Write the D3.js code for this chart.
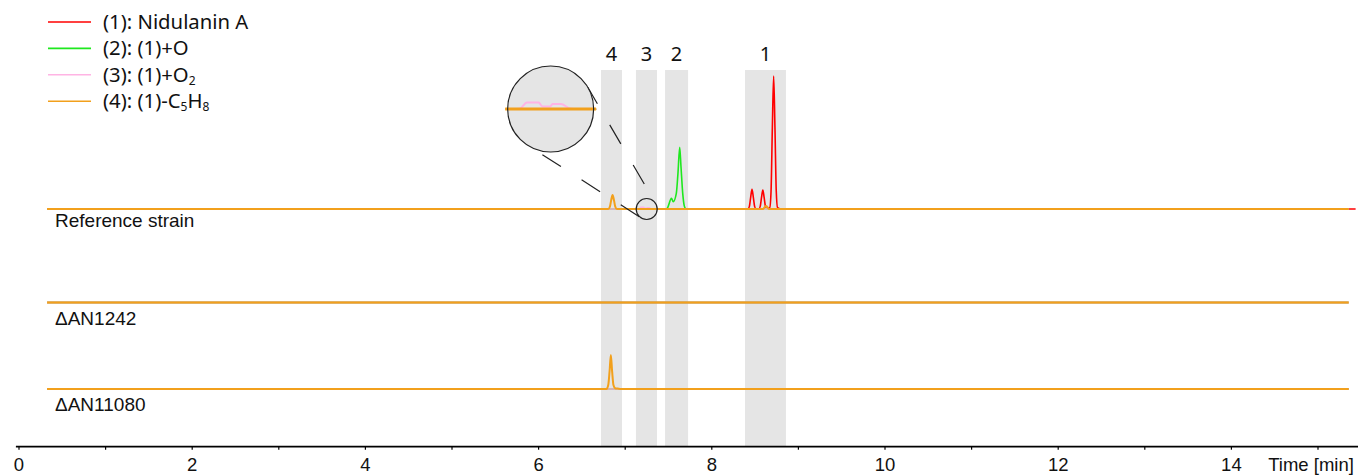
<!DOCTYPE html>
<html>
<head>
<meta charset="utf-8">
<script src="https://cdn.jsdelivr.net/npm/d3@7/dist/d3.min.js"></script>
<style>
  html, body { margin: 0; padding: 0; background: #fff; }
  svg { display: block; }
</style>
</head>
<body>
<svg id="chart" width="1358" height="475"></svg>
<script>
// ---------------- DATA ----------------
const strains = ["Reference strain", "ΔAN1242", "ΔAN11080"];
const compoundIds = ["1", "2", "3", "4"];
const legendParts = [
  [{ t: "(1): Nidulanin A" }],
  [{ t: "(2): (1)+O" }],
  [{ t: "(3): (1)+O" }, { t: "2", sub: true }],
  [{ t: "(4): (1)-C" }, { t: "5", sub: true }, { t: "H" }, { t: "8", sub: true }]
];
const xTicks = [0, 1, 2, 3, 4, 5, 6, 7, 8, 9, 10, 11, 12, 13, 14, 15];
const xTickLabels = ["0", "", "2", "", "4", "", "6", "", "8", "", "10", "", "12", "", "14", ""];
const xAxisTitle = "Time [min]";

// highlighted retention windows (min)
const bandLabels = ["4", "3", "2", "1"];
const bandStart = [6.726, 7.130, 7.466, 8.389];
const bandEnd   = [6.969, 7.373, 7.732, 8.862];

// traces: [time (min), relative intensity]
const refRed = [[0.33,0],[8.40,0],[8.425,0.2],[8.44,2],[8.455,9],[8.47,14.8],[8.485,9],[8.50,2],[8.515,0.2],
  [8.55,0.2],[8.565,2],[8.58,8.7],[8.595,14.3],[8.61,8.7],[8.625,2],[8.64,0.2],
  [8.675,1],[8.69,13.5],[8.705,61],[8.72,100],[8.735,61],[8.75,13.5],[8.765,1],[8.80,0],[15.44,0]];
const refGreen = [[0.33,0],[7.47,0],[7.49,0.5],[7.54,8],[7.56,5.5],[7.596,11.8],[7.615,26.8],[7.635,46.4],
  [7.65,31.8],[7.67,11.8],[7.688,2.3],[7.70,0.5],[7.72,0],[15.36,0]];
const refPink = [[0.33,0],[7.15,0],[7.168,0.1],[7.187,1.2],[7.220,1.2],[7.231,0.47],[7.253,0.47],[7.259,0.92],
  [7.283,0.92],[7.309,0.1],[7.33,0],[15.36,0]];
const refOrange = [[0.33,0],[6.81,0],[6.83,2],[6.845,7],[6.86,10.5],[6.875,7],[6.89,2],[6.91,0],
  [8.60,0],[8.615,1.2],[8.632,2.3],[8.65,1.2],[8.665,0],[15.36,0]];

const flat = [[0.33,0],[15.36,0]];
const an11080Orange = [[0.33,0],[6.79,0],[6.81,3],[6.825,13],[6.84,25.6],[6.855,13],[6.87,3],[6.89,0.6],
  [6.92,0.3],[6.96,0],[15.36,0]];

const traces = [
  { strain: 0, id: "1", values: refRed },
  { strain: 0, id: "2", values: refGreen },
  { strain: 0, id: "3", values: refPink },
  { strain: 0, id: "4", values: refOrange },
  { strain: 1, id: "1", values: flat },
  { strain: 1, id: "2", values: flat },
  { strain: 1, id: "3", values: flat },
  { strain: 1, id: "4", values: flat },
  { strain: 2, id: "1", values: flat },
  { strain: 2, id: "2", values: flat },
  { strain: 2, id: "3", values: flat },
  { strain: 2, id: "4", values: an11080Orange }
];

// zoom annotation: small circle around compound 3 window (time), magnified inset
const zoomTime = 7.254;
const insetTime = 6.145;

// ---------------- LAYOUT / STYLE ----------------
const colors = { "1": "#ff0000", "2": "#1ee81e", "3": "#ffb4e4", "4": "#f2a01c" };
const widths = { "1": 1.6, "2": 1.6, "3": 1.6, "4": 2 };
const trackBase = [209, 302.5, 389];
const peakPx = 133;            // px for intensity 100
const axisY = 446.7;
const bandTop = 70;

const svg = d3.select("#chart");
const x = d3.scaleLinear().domain([0, 15]).range([18.5, 18.5 + 15 * 86.6]);
const yTracks = trackBase.map(b => d3.scaleLinear().domain([0, 100]).range([b, b - peakPx]));

// bands
const bands = svg.append("g");
bandStart.forEach((s, i) => {
  bands.append("rect")
    .attr("x", x(s)).attr("y", bandTop)
    .attr("width", x(bandEnd[i]) - x(s)).attr("height", axisY - bandTop)
    .attr("fill", "#e5e5e5");
  svg.append("text")
    .attr("x", x((s + bandEnd[i]) / 2)).attr("y", 61)
    .attr("text-anchor", "middle")
    .attr("font-family", "Noto Sans").attr("font-size", 20)
    .attr("fill", "#111")
    .text(bandLabels[i]);
});

// traces
const lineFor = (yS) => d3.line().x(d => x(d[0])).y(d => yS(d[1])).curve(d3.curveMonotoneX);
const traceG = svg.append("g");
traces.forEach(tr => {
  traceG.append("path")
    .attr("d", lineFor(yTracks[tr.strain])(tr.values))
    .attr("fill", "none")
    .attr("stroke", colors[tr.id])
    .attr("stroke-width", widths[tr.id])
    .attr("stroke-linejoin", "round");
});

// strain labels
strains.forEach((s, i) => {
  svg.append("text")
    .attr("x", 55).attr("y", trackBase[i] + (i === 0 ? 17.5 : 22))
    .attr("font-family", "Liberation Sans, Arial, sans-serif")
    .attr("font-size", 19).attr("fill", "#111")
    .text(s);
});

// axis
const axisG = svg.append("g").attr("transform", `translate(0,${axisY})`);
axisG.call(d3.axisBottom(x).tickValues(xTicks).tickSize(3).tickSizeOuter(0)
  .tickFormat((d, i) => xTickLabels[i]));
axisG.select(".domain").remove();
axisG.append("line")
  .attr("x1", x(-0.03)).attr("x2", x(15.47))
  .attr("stroke", "#000").attr("stroke-width", 1.8);
axisG.selectAll(".tick line").attr("stroke", "#000").attr("stroke-width", 1.2);
axisG.selectAll(".tick text")
  .attr("y", 24).attr("dy", 0)
  .attr("font-family", "Liberation Sans, Arial, sans-serif")
  .attr("font-size", 18.5).attr("fill", "#111");
axisG.append("text")
  .attr("x", x(15.42)).attr("y", 24)
  .attr("text-anchor", "end")
  .attr("font-family", "Liberation Sans, Arial, sans-serif")
  .attr("font-size", 18.5).attr("fill", "#111")
  .text(xAxisTitle);

// legend
const legend = svg.append("g");
compoundIds.forEach((id, i) => {
  const ly = 22 + i * 26.4;
  legend.append("line")
    .attr("x1", 48).attr("x2", 91).attr("y1", ly).attr("y2", ly)
    .attr("stroke", colors[id]).attr("stroke-width", 1.6);
  const t = legend.append("text")
    .attr("x", 103).attr("y", ly + 7)
    .attr("font-family", "Noto Sans").attr("font-size", 20.3).attr("fill", "#111");
  legendParts[i].forEach(p => {
    const ts = t.append("tspan").text(p.t);
    if (p.sub) ts.attr("font-size", 12).attr("dy", 3);
    else if (t.selectAll("tspan").size() > 1) ts.attr("dy", -3);
  });
});

// zoom inset
const rSmall = 10.5, rBig = 43;
const cs = [x(zoomTime), trackBase[0]];
const cb = [x(insetTime), trackBase[0] - 100];
const k = rBig / rSmall;

// tangent lines (external common tangents)
const dx = cs[0] - cb[0], dy = cs[1] - cb[1];
const D = Math.hypot(dx, dy), th = Math.atan2(dy, dx), ph = Math.acos((rBig - rSmall) / D);
const tangents = [
  { a: th - ph, off: 3 },
  { a: th + ph, off: 28.8 }
];
tangents.forEach(tg => {
  svg.append("line")
    .attr("x1", cb[0] + rBig * Math.cos(tg.a)).attr("y1", cb[1] + rBig * Math.sin(tg.a))
    .attr("x2", cs[0] + rSmall * Math.cos(tg.a)).attr("y2", cs[1] + rSmall * Math.sin(tg.a))
    .attr("stroke", "#222").attr("stroke-width", 1.2)
    .attr("stroke-dasharray", "22,24.5").attr("stroke-dashoffset", tg.off);
});

svg.append("circle").attr("cx", cs[0]).attr("cy", cs[1]).attr("r", rSmall)
  .attr("fill", "none").attr("stroke", "#222").attr("stroke-width", 1.2);

const defs = svg.append("defs");
defs.append("clipPath").attr("id", "insetClip")
  .append("circle").attr("cx", cb[0]).attr("cy", cb[1]).attr("r", rBig + 2.5);
svg.append("circle").attr("cx", cb[0]).attr("cy", cb[1]).attr("r", rBig)
  .attr("fill", "#e5e5e5");
const inset = svg.append("g").attr("clip-path", "url(#insetClip)")
  .append("g")
  .attr("transform", `translate(${cb[0]},${cb[1]}) scale(${k}) translate(${-cs[0]},${-cs[1]})`);
traces.filter(tr => tr.strain === 0).forEach(tr => {
  inset.append("path")
    .attr("d", lineFor(yTracks[0])(tr.values))
    .attr("fill", "none")
    .attr("stroke", colors[tr.id])
    .attr("stroke-width", tr.id === "4" ? 3 : 2)
    .attr("vector-effect", "non-scaling-stroke");
});
svg.append("circle").attr("cx", cb[0]).attr("cy", cb[1]).attr("r", rBig)
  .attr("fill", "none").attr("stroke", "#222").attr("stroke-width", 1.2);
</script>
</body>
</html>
